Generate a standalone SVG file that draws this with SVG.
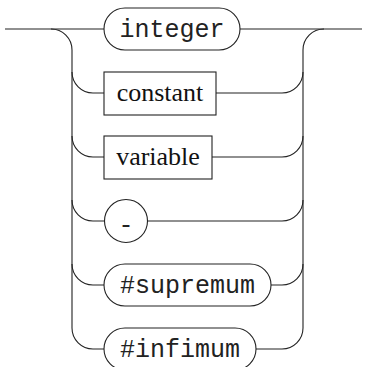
<svg xmlns="http://www.w3.org/2000/svg" width="367" height="367" viewBox="0 0 367 367">
<style>
.ln{fill:none;stroke:#222;stroke-width:1.1}
.nd{fill:#fff;stroke:#222;stroke-width:1.1}
.t{font-family:"Liberation Mono","Courier New",monospace;font-size:25px;fill:#222;text-anchor:middle}
.n{font-family:"Liberation Serif","Times New Roman",serif;font-size:26px;fill:#111;text-anchor:middle}
</style>
<rect width="367" height="367" fill="#fff"/>
<g id="connectors" class="ln">
<path d="M5,29 H104"/>
<path d="M51,29 A21,21 0 0 1 72,50 V328 A21,21 0 0 0 93,349 H104"/>
<path d="M72,72 A21,21 0 0 0 93,93 H104"/>
<path d="M72,136 A21,21 0 0 0 93,157 H104"/>
<path d="M72,200 A21,21 0 0 0 93,221 H104"/>
<path d="M72,264 A21,21 0 0 0 93,285 H104"/>
<path d="M240,29 H362"/>
<path d="M324,29 A21,21 0 0 0 303,50 V328 A21,21 0 0 1 282,349 H256"/>
<path d="M216,93 H282 A21,21 0 0 0 303,72"/>
<path d="M212,157 H282 A21,21 0 0 0 303,136"/>
<path d="M148,221 H282 A21,21 0 0 0 303,200"/>
<path d="M271,285 H282 A21,21 0 0 0 303,264"/>
</g>
<g id="node-integer">
<rect class="nd" x="104" y="8" width="136" height="42" rx="21" ry="21"/>
<text class="t" x="172" y="37">integer</text>
</g>
<g id="node-constant">
<rect class="nd" x="104" y="72" width="112" height="43"/>
<text class="n" x="160" y="101">constant</text>
</g>
<g id="node-variable">
<rect class="nd" x="104" y="136" width="108" height="43"/>
<text class="n" x="158" y="165">variable</text>
</g>
<g id="node-minus">
<circle class="nd" cx="126" cy="221" r="21.5"/>
<text class="t" x="126" y="233">-</text>
</g>
<g id="node-supremum">
<rect class="nd" x="104" y="264" width="167" height="42" rx="21" ry="21"/>
<text class="t" x="187.5" y="293">#supremum</text>
</g>
<g id="node-infimum">
<rect class="nd" x="104" y="328" width="152" height="42" rx="21" ry="21"/>
<text class="t" x="180" y="357">#infimum</text>
</g>
</svg>
